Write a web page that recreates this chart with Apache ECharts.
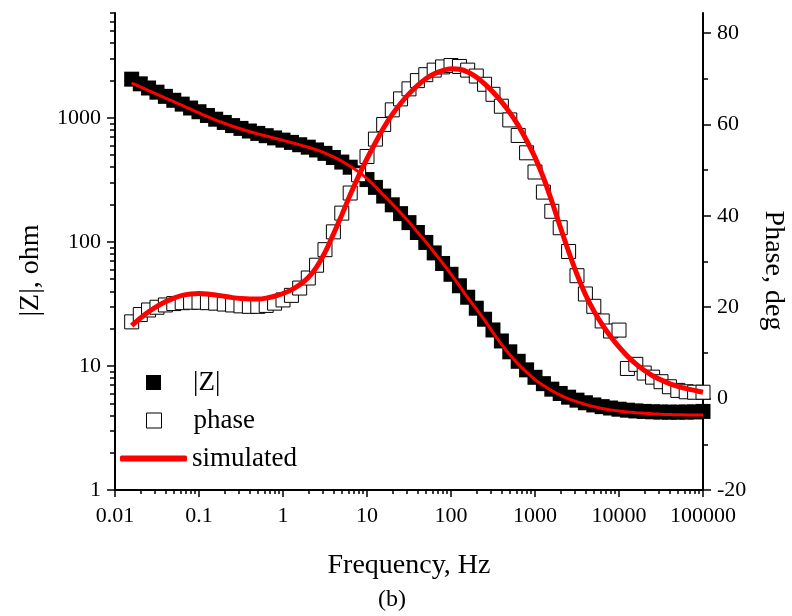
<!DOCTYPE html>
<html>
<head>
<meta charset="utf-8">
<script src="https://cdn.jsdelivr.net/npm/echarts@6/dist/echarts.min.js"></script>
<style>
  html, body { margin: 0; padding: 0; background: #fff; }
  #chart { width: 792px; height: 616px; }
</style>
</head>
<body>
<div id="chart"></div>
<script>
// frequencies, Hz
const freqHz = [
  0.0158, 0.02, 0.0251, 0.0316, 0.0398, 0.0501, 0.0631, 0.0794,
  0.1, 0.126, 0.158, 0.2, 0.251, 0.316, 0.398, 0.501, 0.631, 0.794,
  1, 1.26, 1.58, 2, 2.51, 3.16, 3.98, 5.01, 6.31, 7.94,
  10, 12.6, 15.8, 20, 25.1, 31.6, 39.8, 50.1, 63.1, 79.4,
  100, 126, 158, 200, 251, 316, 398, 501, 631, 794,
  1000, 1259, 1585, 1995, 2512, 3162, 3981, 5012, 6310, 7943,
  10000, 12589, 15849, 19953, 25119, 31623, 39811, 50119, 63096, 79433,
  100000
];

// measured |Z|, ohm
const zMeasured = [
  2050, 1880, 1740, 1610, 1490, 1385, 1290, 1200,
  1120, 1045, 975, 918, 866, 822, 783, 749, 718, 689,
  661, 634, 607, 580, 551, 517, 479, 440, 400, 360,
  318, 275, 234, 199, 169, 143, 119, 99, 81.5, 67,
  54.8, 44.3, 35.8, 29.2, 23.8, 19.5, 15.9, 13.0, 10.9, 9.3,
  8.1, 7.2, 6.5, 6.0, 5.6, 5.3, 5.05, 4.85, 4.7, 4.58,
  4.48, 4.4, 4.34, 4.3, 4.27, 4.25, 4.24, 4.24, 4.25, 4.26,
  4.3
];

// measured phase, deg
const phaseMeasured = [
  16.8, 18.4, 19.4, 20.0, 20.5, 20.8, 21.0, 21.1,
  21.1, 21.0, 20.9, 20.7, 20.5, 20.3, 20.2, 20.2, 20.4, 20.9,
  21.6, 22.6, 24.2, 26.4, 29.2, 32.6, 36.5, 40.6, 45.0, 49.0,
  53.0, 56.8, 60.0, 63.2, 65.6, 67.8, 69.6, 70.9, 71.9, 72.6,
  72.9, 72.7, 71.9, 70.6, 68.8, 66.6, 64.0, 61.0, 57.6, 53.8,
  49.6, 45.2, 41.0, 37.4, 32.2, 26.9, 22.9, 20.2, 17.0, 14.8,
  15.0, 6.6, 7.5, 5.6, 4.7, 3.7, 2.6, 1.8, 1.5, 1.4,
  1.4
];

// simulated |Z|, ohm
const zSimulated = [
  1905, 1778, 1660, 1549, 1445, 1349, 1259, 1175,
  1096, 1023, 959, 904, 855, 813, 776, 743, 713, 685,
  658, 631, 605, 579, 552, 520, 484, 447, 407, 367,
  324, 279, 237, 202, 172, 145, 120, 100, 82.2, 67.6,
  55.0, 44.2, 35.5, 28.8, 23.4, 18.6, 15.0, 12.3, 10.35, 8.9,
  7.76, 6.95, 6.31, 5.82, 5.43, 5.15, 4.90, 4.70, 4.54, 4.42,
  4.33, 4.26, 4.20, 4.15, 4.11, 4.08, 4.06, 4.04, 4.03, 4.02,
  4.02
];

// simulated phase, deg
const phaseSimulated = [
  16.0, 17.6, 19.0, 20.2, 21.2, 22.0, 22.6, 22.9,
  23.0, 22.9, 22.7, 22.4, 22.1, 21.9, 21.8, 21.8, 22.0, 22.4,
  23.0, 23.8, 24.9, 26.5, 28.8, 32.0, 36.0, 40.2, 44.6, 48.7,
  52.5, 56.0, 59.3, 62.2, 64.6, 66.7, 68.5, 70.0, 71.1, 71.8,
  72.2, 72.1, 71.5, 70.4, 68.9, 67.1, 65.0, 62.6, 59.8, 56.5,
  52.8, 48.4, 43.2, 37.6, 32.2, 27.2, 22.8, 19.2, 16.2, 13.6,
  11.3, 9.3, 7.6, 6.2, 5.0, 4.1, 3.3, 2.7, 2.2, 1.8,
  1.4
];

const xTicks = [0.01, 0.1, 1, 10, 100, 1000, 10000, 100000];
const xTickLabels = ['0.01', '0.1', '1', '10', '100', '1000', '10000', '100000'];
const zTicks = [1, 10, 100, 1000];
const zTickLabels = ['1', '10', '100', '1000'];
const phaseTicks = [-20, 0, 20, 40, 60, 80];
const phaseMinorTicks = [-10, 10, 30, 50, 70];

// minor ticks at 2..9 of every decade
function minorLogTicks(from, to, max) {
  const out = [];
  for (let d = from; d < to; d *= 10) {
    for (let k = 2; k <= 9; k++) {
      const v = +(k * d).toPrecision(3);
      if (v <= max) out.push(v);
    }
  }
  return out;
}
const xMinorTicks = minorLogTicks(0.01, 100000, 100000);
const zMinorTicks = minorLogTicks(1, 10000, 7000);

// pick the label of the nearest major tick
function logLabel(ticks, labels) {
  return function (v) {
    let best = 0;
    for (let i = 1; i < ticks.length; i++) {
      if (Math.abs(Math.log10(ticks[i] / v)) < Math.abs(Math.log10(ticks[best] / v))) best = i;
    }
    return labels[best];
  };
}

const font = 'Liberation Serif';
const black = '#000';

const chart = echarts.init(document.getElementById('chart'), null, {renderer: 'canvas'});

const option = {
  animation: false,
  backgroundColor: '#fff',
  title: {
    text: '(b)',
    left: 378,
    top: 588,
    padding: 0,
    textStyle: {fontFamily: font, fontSize: 24, fontWeight: 'normal', color: black}
  },
  grid: {left: 115, right: 89, top: 13, bottom: 126, outerBoundsMode: 'none'},
  legend: [
    {
      left: 146, top: 369, padding: 0, selectedMode: false,
      icon: 'rect', itemWidth: 15, itemHeight: 15,
      data: [{name: '|Z|', itemStyle: {color: black, opacity: 1}}],
      textStyle: {fontFamily: font, fontSize: 27, color: black, padding: [0, 0, 0, 27]}
    },
    {
      left: 146, top: 407, padding: 0, selectedMode: false,
      icon: 'rect', itemWidth: 15, itemHeight: 15,
      data: [{name: 'phase', itemStyle: {color: '#fff', borderColor: black, borderWidth: 1, opacity: 1}}],
      textStyle: {fontFamily: font, fontSize: 27, color: black, padding: [0, 0, 0, 27]}
    },
    {
      left: 120, top: 445, padding: 0, selectedMode: false,
      icon: 'roundRect', itemWidth: 67, itemHeight: 6,
      data: [{name: 'simulated', itemStyle: {color: '#ff0000'}}],
      textStyle: {fontFamily: font, fontSize: 27, color: black}
    }
  ],
  xAxis: [
    {
      type: 'log', logBase: 10, min: 0.01, max: 100000, position: 'bottom',
      name: 'Frequency, Hz', nameLocation: 'middle', nameGap: 62,
      nameTextStyle: {fontFamily: font, fontSize: 28, color: black},
      axisLine: {onZero: false, lineStyle: {color: black, width: 2}},
      axisTick: {length: 7, lineStyle: {color: black, width: 1.5}, customValues: xTicks},
      axisLabel: {
        customValues: xTicks, margin: 15,
        fontFamily: font, fontSize: 22, color: black,
        formatter: logLabel(xTicks, xTickLabels)
      },
      splitLine: {show: false}
    },
    {
      type: 'log', logBase: 10, min: 0.01, max: 100000, position: 'bottom',
      axisLine: {show: false, onZero: false},
      axisTick: {length: 4, lineStyle: {color: black, width: 1.5}, customValues: xMinorTicks},
      axisLabel: {show: false},
      splitLine: {show: false}
    }
  ],
  yAxis: [
    {
      type: 'log', logBase: 10, min: 1, max: 7000, position: 'left',
      name: '|Z|, ohm', nameLocation: 'middle', nameGap: 70, nameRotate: 90,
      nameTextStyle: {fontFamily: font, fontSize: 28, color: black, padding: [0, 38, 0, 0]},
      axisLine: {show: true, onZero: false, lineStyle: {color: black, width: 2}},
      axisTick: {show: true, length: 8, lineStyle: {color: black, width: 1.5}, customValues: zTicks},
      axisLabel: {
        customValues: zTicks, margin: 14,
        fontFamily: font, fontSize: 22, color: black,
        formatter: logLabel(zTicks, zTickLabels)
      },
      splitLine: {show: false}
    },
    {
      type: 'value', min: -20, max: 84.4, position: 'right',
      name: 'Phase, deg', nameLocation: 'middle', nameGap: 56, nameRotate: -90,
      nameTextStyle: {fontFamily: font, fontSize: 28, color: black, padding: [0, 0, 0, 38]},
      axisLine: {show: true, onZero: false, lineStyle: {color: black, width: 2}},
      axisTick: {show: true, length: 8, lineStyle: {color: black, width: 1.5}, customValues: phaseTicks},
      axisLabel: {
        customValues: phaseTicks, margin: 14,
        fontFamily: font, fontSize: 22, color: black
      },
      splitLine: {show: false}
    },
    {
      type: 'log', logBase: 10, min: 1, max: 7000, position: 'left',
      axisLine: {show: false, onZero: false},
      axisTick: {show: true, length: 5, lineStyle: {color: black, width: 1.5}, customValues: zMinorTicks},
      axisLabel: {show: false},
      splitLine: {show: false}
    },
    {
      type: 'value', min: -20, max: 84.4, position: 'right',
      axisLine: {show: false, onZero: false},
      axisTick: {show: true, length: 5, lineStyle: {color: black, width: 1.5}, customValues: phaseMinorTicks},
      axisLabel: {show: false},
      splitLine: {show: false}
    }
  ],
  series: [
    {
      name: '|Z|', type: 'scatter', xAxisIndex: 0, yAxisIndex: 0,
      symbol: 'rect', symbolSize: 15,
      itemStyle: {color: black, opacity: 1},
      data: zMeasured.map((v, i) => [freqHz[i], v])
    },
    {
      name: 'phase', type: 'scatter', xAxisIndex: 0, yAxisIndex: 1,
      symbol: 'rect', symbolSize: 14,
      itemStyle: {color: '#fff', borderColor: black, borderWidth: 1, opacity: 1},
      data: phaseMeasured.map((v, i) => [freqHz[i], v])
    },
    {
      name: 'simulated', type: 'line', xAxisIndex: 0, yAxisIndex: 0,
      symbol: 'none', smooth: 0.3,
      lineStyle: {color: '#ff0000', width: 3},
      itemStyle: {color: '#ff0000'},
      data: zSimulated.map((v, i) => [freqHz[i], v])
    },
    {
      name: 'simulated', type: 'line', xAxisIndex: 0, yAxisIndex: 1,
      symbol: 'none', smooth: 0.3,
      lineStyle: {color: '#ff0000', width: 5},
      itemStyle: {color: '#ff0000'},
      data: phaseSimulated.map((v, i) => [freqHz[i], v])
    }
  ]
};

chart.setOption(option);
</script>
</body>
</html>
